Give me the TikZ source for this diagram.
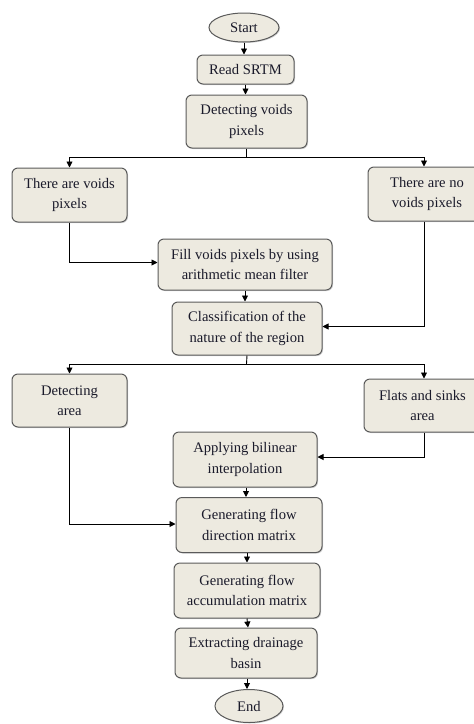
\documentclass[tikz,border=0pt]{standalone}
\usepackage{fontspec}
\setmainfont{Liberation Serif}
\usetikzlibrary{arrows.meta,shapes.geometric,shadows}
\definecolor{boxfill}{HTML}{EDEAE0}
\definecolor{boxline}{HTML}{5A5A5A}
\definecolor{txt}{HTML}{1A1A2A}
\tikzset{
  box/.style={draw=boxline, line width=1pt, fill=boxfill, rounded corners=6pt,
    align=center, font=\fontsize{14.6}{20.5}\selectfont, text=txt, inner sep=0pt,
    drop shadow={shadow xshift=1pt, shadow yshift=-1pt, opacity=0.35, fill=gray}},
  term/.style={draw=boxline, line width=1pt, fill=boxfill, ellipse, inner sep=0pt,
    font=\fontsize{14.6}{20.5}\selectfont, text=txt,
    drop shadow={shadow xshift=1pt, shadow yshift=-1pt, opacity=0.35, fill=gray}},
  arr/.style={draw=black, line width=0.9pt, -{Triangle[length=6pt,width=6pt]}},
  ln/.style={draw=black, line width=0.9pt}
}
\begin{document}
\begin{tikzpicture}[x=1pt,y=-1pt]
\useasboundingbox (0,0) rectangle (474,724);
\clip (0,0) rectangle (474,724);
\node[term, minimum width=70pt, minimum height=29pt] (start) at (244,27.5) {Start};
\node[box, minimum width=97pt, minimum height=29pt] (read) at (245.5,69.5) {Read SRTM};
\node[box, minimum width=121pt, minimum height=53pt] (dv) at (246.5,121.5) {Detecting voids\\pixels};
\node[box, minimum width=115pt, minimum height=54pt] (tv) at (69.5,195) {There are voids\\pixels};
\node[box, minimum width=118pt, minimum height=54pt] (nv) at (427,194) {There are no\\voids pixels};
\node[box, minimum width=174pt, minimum height=51pt] (fill) at (245,264.5) {Fill voids pixels by using\\arithmetic mean filter};
\node[box, minimum width=150pt, minimum height=53pt] (cls) at (247,328.5) {Classification of the\\nature of the region};
\node[box, minimum width=115pt, minimum height=53pt] (da) at (69.5,400.5) {Detecting\\area};
\node[box, minimum width=117pt, minimum height=53pt] (fs) at (422.5,405.5) {Flats and sinks\\area};
\node[box, minimum width=144pt, minimum height=55pt] (bil) at (245,459.5) {Applying bilinear\\interpolation};
\node[box, minimum width=146pt, minimum height=55pt] (gfd) at (249,525) {Generating flow\\direction matrix};
\node[box, minimum width=146pt, minimum height=55pt] (gfa) at (247,590.5) {Generating flow\\accumulation matrix};
\node[box, minimum width=142pt, minimum height=50pt] (ext) at (246,653) {Extracting drainage\\basin};
\node[term, minimum width=68pt, minimum height=33pt] (end) at (249,706) {End};

\coordinate (j1) at (246.5,157);
\coordinate (j2) at (246.5,364);

\draw[arr] (start) -- (start |- read.north);
\draw[arr] (read) -- (read |- dv.north);
\draw[ln] (dv.south) -- (j1);
\draw[arr] (j1) -| (tv.north);
\draw[arr] (j1) -| ([xshift=-3pt]nv.north);
\draw[arr] (tv.south) |- ([yshift=2pt]fill.west);
\draw[arr] (fill.south) -- (fill.south |- cls.north);
\draw[arr] ([xshift=-3pt]nv.south) |- ([yshift=2pt]cls.east);
\draw[ln] (cls.south) -- (j2);
\draw[arr] (j2) -| (da.north);
\draw[arr] (j2) -| ([xshift=1.5pt]fs.north);
\draw[arr] ([xshift=1.5pt]fs.south) |- ([yshift=2.5pt]bil.east);
\draw[arr] ([xshift=1pt]bil.south) -- ([xshift=-3pt]gfd.north);
\draw[arr] (da.south) |- ([yshift=1pt]gfd.west);
\draw[arr] ([xshift=-2pt]gfd.south) -- ([xshift=0pt]gfa.north);
\draw[arr] (gfa.south) -- ([xshift=1pt]gfa.south |- ext.north);
\draw[arr] ([xshift=1pt]ext.south) -- ([xshift=-2pt]end.north);
\end{tikzpicture}
\end{document}
